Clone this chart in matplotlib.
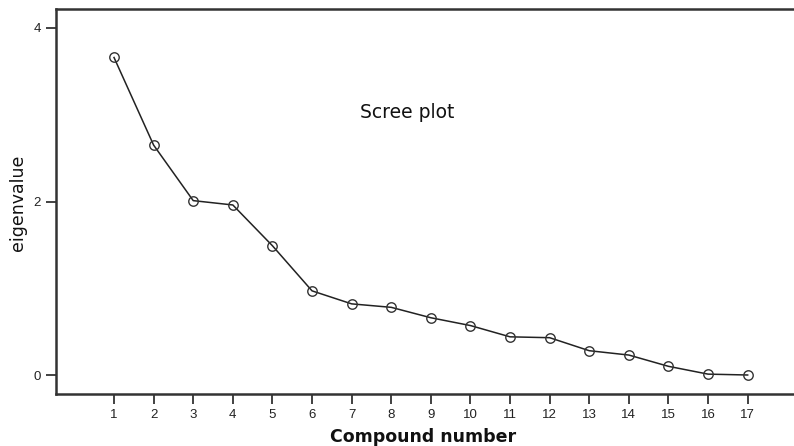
import matplotlib
matplotlib.use("Agg")
import matplotlib.pyplot as plt

components = list(range(1, 18))
eigenvalues = [3.66, 2.65, 2.01, 1.96, 1.49, 0.97, 0.82, 0.78, 0.66, 0.57,
               0.44, 0.43, 0.28, 0.23, 0.10, 0.01, 0.00]
y_ticks = [0, 2, 4]
title_text = "Scree plot"
x_label = "Compound number"
y_label = "eigenvalue"

plt.rcParams['font.family'] = ['Liberation Sans', 'DejaVu Sans']

W, H = 794, 446
fig = plt.figure(figsize=(W / 100, H / 100), dpi=100)
ax = fig.add_axes([56 / W, 1 - 394 / H, 1 - 56 / W, (394 - 9) / H])

ax.plot(components, eigenvalues, color='#222222', linewidth=1.1,
        marker='o', markersize=6.8, markerfacecolor='none',
        markeredgecolor='#333333', markeredgewidth=1.0)

ax.set_xlim(-0.465, 18.17)
ax.set_ylim(-0.219, 4.219)
ax.set_xticks(components)
ax.set_xticklabels([str(c) for c in components])
ax.set_yticks(y_ticks)
ax.set_yticklabels([str(v) for v in y_ticks])

for s in ['top', 'left', 'bottom']:
    ax.spines[s].set_linewidth(1.8)
    ax.spines[s].set_color('#333333')
ax.spines['right'].set_visible(False)

ax.tick_params(axis='both', direction='out', length=7, width=1.3,
               color='#333333', labelsize=9.5, labelcolor='#222222', pad=4)

fig.text(407 / W, 1 - 113 / H, title_text, ha='center', va='center',
         fontsize=13.5, color='#111111', family='DejaVu Sans')
fig.text(423 / W, 1 - 437 / H, x_label, ha='center', va='center',
         fontsize=12.5, fontweight='bold', color='#111111', family='DejaVu Sans')
fig.text(18 / W, 1 - 203 / H, y_label, ha='center', va='center',
         rotation=90, fontsize=12.5, color='#111111', family='DejaVu Sans')

fig.savefig('out.png', dpi=100)
